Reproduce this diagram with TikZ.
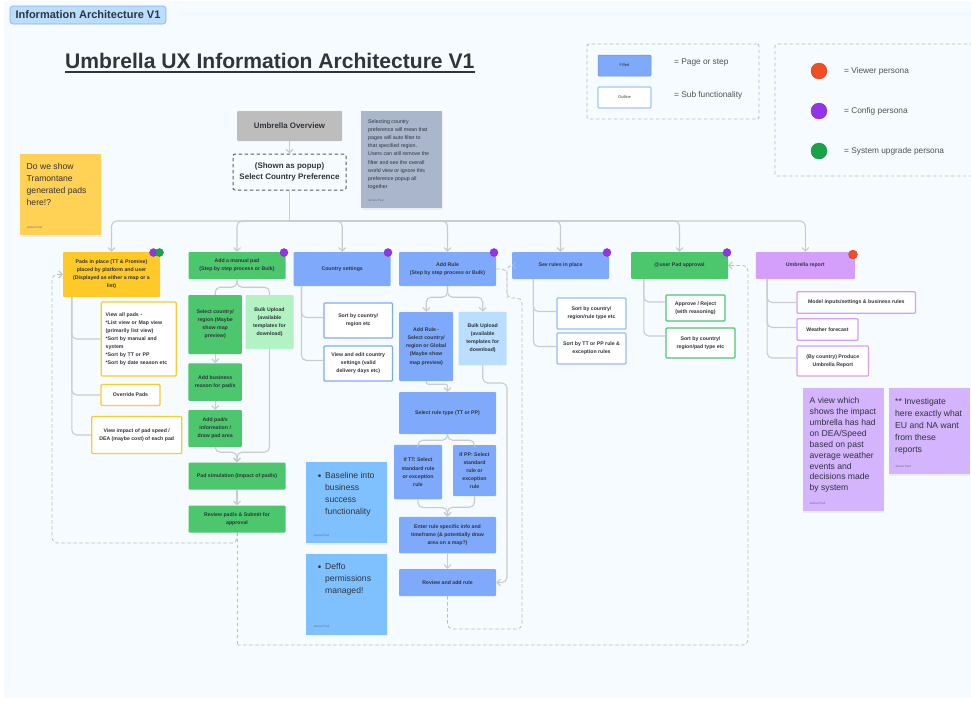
\documentclass[tikz,border=0pt]{standalone}
\usepackage{fontspec,xcolor}
\usetikzlibrary{arrows.meta,shadows}
\setmainfont{Liberation Sans}

\definecolor{pagebg}{HTML}{F6FBFF}
\definecolor{inkdark}{HTML}{30343C}
\definecolor{linegrey}{HTML}{C9CCCF}
\definecolor{dashgrey}{HTML}{BBBDC0}
\definecolor{padyellow}{HTML}{FFC928}
\definecolor{padgreen}{HTML}{4CC76E}
\definecolor{lightgreen}{HTML}{B2F2C3}
\definecolor{ruleblue}{HTML}{7FAAFB}
\definecolor{lightblue}{HTML}{B9DEFF}
\definecolor{reportpurple}{HTML}{D39FFB}
\definecolor{notepurple}{HTML}{D3B4FD}
\definecolor{noteblue}{HTML}{7FC1FF}
\definecolor{notegrey}{HTML}{A9B6CC}
\definecolor{noteyellow}{HTML}{FFD155}
\definecolor{personared}{HTML}{F04E23}
\definecolor{personapurple}{HTML}{9333EA}
\definecolor{personagreen}{HTML}{16A34A}

\tikzset{
  sz/.style 2 args={minimum width=#1pt,minimum height=#2pt},
  box/.style={inner sep=0pt,rounded corners=1pt,align=center,text=inkdark,
    font=\fontsize{5.2}{8.1}\selectfont\bfseries},
  sub/.style={box,fill=white,draw=#1,line width=1.2pt},
  note/.style={inner sep=0pt,fill=#1,drop shadow={opacity=0.1,shadow xshift=0.5pt,shadow yshift=-1.5pt}},
  notetext/.style={inner sep=0pt,anchor=north west,align=left,text=inkdark,
    font=\fontsize{8.6}{12}\selectfont},
  noteby/.style={inner sep=0pt,anchor=south west,text=inkdark!70,font=\fontsize{3}{4}\selectfont},
  dot/.style={circle,inner sep=0pt,minimum size=8pt,fill=#1,draw=#1!80!black,line width=0.3pt},
  legend/.style={inner sep=0pt,anchor=west,text=inkdark!85,font=\fontsize{8.3}{10}\selectfont},
  frame/.style={draw=dashgrey,line width=0.9pt,dash pattern=on 3.5pt off 2.5pt,rounded corners=2pt,inner sep=0pt},
  conn/.style={draw=linegrey,line width=1.1pt,rounded corners=5pt},
  arr/.style={-{Straight Barb[length=3.5pt,width=7pt]}},
  dconn/.style={draw=dashgrey,line width=0.8pt,dash pattern=on 3.5pt off 2.5pt,rounded corners=5pt}
}

\begin{document}
\begin{tikzpicture}[x=1pt,y=-1pt]
  \useasboundingbox (0,0) rectangle (971,704);
  \fill [pagebg] (4,1) rectangle (971,698);

  % heading
  \node [sz={156}{18},inner sep=0pt,rounded corners=3pt,fill=lightblue,draw=lightblue!75!blue,line width=0.6pt,
    font=\fontsize{11}{12}\selectfont\bfseries,text=inkdark] (tag) at (88,15) {Information Architecture V1};
  \node [inner sep=0pt,anchor=base west,text=inkdark,font=\fontsize{21.1}{26}\selectfont\bfseries] (title) at (65,68) {Umbrella UX Information Architecture V1};
  \draw [inkdark,line width=1.5pt] ([yshift=-4pt]title.base west) -- ([yshift=-4pt]title.base east);

  % legends
  \node [frame,sz={172}{75}] (legendbox) at (673,81.5) {};
  \node [box,sz={53}{21},fill=ruleblue,draw=ruleblue!85!black,line width=0.5pt,font=\fontsize{4}{5}\selectfont] (filled) at (624.5,65.5) {Filled};
  \node [sub=ruleblue!70,sz={53}{21},font=\fontsize{4}{5}\selectfont] (outline) at (624.5,97.5) {Outline};
  \node [legend] (filledtxt) at (674,63) {= Page or step};
  \node [legend] (outlinetxt) at (674,95) {= Sub functionality};
  \node [frame,sz={230}{132}] (personabox) at (890,110) {};
  \node [dot=personared,minimum size=16pt] (viewer) at (819,71) {};
  \node [dot=personapurple,minimum size=16pt] (config) at (819,111) {};
  \node [dot=personagreen,minimum size=16pt] (upgrade) at (819,151) {};
  \node [legend] (viewertxt) at (844,71) {= Viewer persona};
  \node [legend] (configtxt) at (844,111) {= Config persona};
  \node [legend] (upgradetxt) at (844,151) {= System upgrade persona};

  % top of the tree
  \node [box,sz={105}{30},fill=black!26,font=\fontsize{7.9}{10}\selectfont\bfseries] (overview) at (289.5,126) {Umbrella Overview};
  \node [frame,box,sz={113}{36},draw=inkdark!80,line width=1pt,fill=pagebg,rounded corners=2pt,font=\fontsize{8}{11}\selectfont\bfseries] (popup) at (289.5,172) {(Shown as popup)\\Select Country Preference};
  \coordinate (trunk) at (289.5,221);

  % top level pages
  \node [box,sz={97}{45},fill=padyellow] (pads) at (111.5,274.5) {Pads in place (TT \& Promise)\\placed by platform and user\\(Displayed as either a map or a\\list)};
  \node [box,sz={97}{27},fill=padgreen] (manual) at (237,265.5) {Add a manual pad\\(Step by step process or Bulk)};
  \node [box,sz={97}{34},fill=ruleblue] (country) at (342.2,269) {Country settings};
  \node [box,sz={97}{34},fill=ruleblue] (addrule) at (447.5,269) {Add Rule\\(Step by step process or Bulk)};
  \node [box,sz={97}{27},fill=ruleblue] (sevrules) at (560.5,265.5) {Sev rules in place};
  \node [box,sz={97}{27},fill=padgreen] (approval) at (679.5,265.5) {@user Pad approval};
  \node [box,sz={99}{27},fill=reportpurple] (report) at (805.3,265.5) {Umbrella report};

  % persona dots
  \node [dot=personapurple] (padsdota) at (153.5,252.5) {};
  \node [dot=personagreen] (padsdotb) at (159.5,252.5) {};
  \node [dot=personapurple] (manualdot) at (284,252.5) {};
  \node [dot=personapurple] (countrydot) at (388,252.5) {};
  \node [dot=personapurple] (addruledot) at (494,252.5) {};
  \node [dot=personapurple] (sevdot) at (607,252.5) {};
  \node [dot=personapurple] (approvaldot) at (727,252.5) {};
  \node [dot=personared,minimum size=9pt] (reportdot) at (853,254.5) {};

  % pads in place
  \node [sub=padyellow,sz={75}{74},text width=66pt,align=left] (viewall) at (138.7,339) {View all pads -\\{}*List view or Map view\\(primarily list view)\\{}*Sort by manual and\\system\\{}*Sort by TT or PP\\{}*Sort by date season etc\\ };
  \node [sub=padyellow,sz={59}{21}] (override) at (130.5,395) {Override Pads};
  \node [sub=padyellow,sz={90}{37}] (impact) at (136.7,435) {View impact of pad  speed /\\DEA (maybe cost) of each pad};

  % manual pad steps
  \node [box,sz={53.5}{59},fill=padgreen] (selectc) at (215.2,324.5) {Select country/\\region (Maybe\\show map\\preview)};
  \node [box,sz={48}{54},fill=lightgreen] (bulkgreen) at (269.5,322) {Bulk Upload\\(available\\templates for\\download)};
  \node [box,sz={53.5}{37.5},fill=padgreen] (reason) at (215.2,382) {Add business\\reason for pad/s};
  \node [box,sz={53.5}{37},fill=padgreen] (padinfo) at (215.2,428.5) {Add pad/s\\information /\\draw pad area};
  \node [box,sz={97}{27},fill=padgreen] (simul) at (237,476) {Pad simulation (Impact of pad/s)};
  \node [box,sz={97}{27},fill=padgreen] (reviewpad) at (237,519) {Review pad/s \& Submit for\\approval};

  % country settings
  \node [sub=ruleblue,sz={68.5}{35}] (sortcountry) at (358.2,320.5) {Sort by country/\\region etc};
  \node [sub=ruleblue,sz={68.5}{35}] (editcountry) at (358.2,363.5) {View and edit country\\settings (valid\\delivery days etc)};

  % rule steps
  \node [box,sz={54}{69},fill=ruleblue] (selectr) at (426.2,346.5) {Add Rule -\\Select country/\\region or Global\\(Maybe show\\map preview)};
  \node [box,sz={48}{53.5},fill=lightblue] (bulkblue) at (482.7,338.5) {Bulk Upload\\(available\\templates for\\download)};
  \node [box,sz={97}{42},fill=ruleblue] (ruletype) at (447.5,413) {Select rule type (TT or PP)};
  \node [box,sz={48}{54.5},fill=ruleblue] (iftt) at (418,472.2) {If TT: Select\\standard rule\\or exception\\rule};
  \node [box,sz={43}{51},fill=ruleblue] (ifpp) at (474.5,470.5) {If PP: Select\\standard\\rule or\\exception\\rule};
  \node [box,sz={97}{36.5},fill=ruleblue] (enter) at (447.5,535) {Enter rule specific info and\\timeframe (\& potentially draw\\area on a map?)};
  \node [box,sz={97}{27},fill=ruleblue] (reviewrule) at (447.5,582.5) {Review and add rule};

  % sev rules
  \node [sub=ruleblue!80,sz={69}{31}] (sortrule) at (591.5,313.5) {Sort by country/\\region/rule type etc};
  \node [sub=ruleblue!80,sz={69}{31}] (sorttt) at (591.5,348.5) {Sort by TT or PP rule \&\\exception rules};

  % approval
  \node [sub=padgreen,sz={59}{26}] (approve) at (695.5,308) {Approve / Reject\\(with reasoning)};
  \node [sub=padgreen,sz={69}{30}] (sortpad) at (700.5,343) {Sort by country/\\region/pad type etc};

  % report
  \node [sub=reportpurple,sz={118.5}{21.5}] (inputs) at (856.3,302.5) {Model inputs/settings \& business rules};
  \node [sub=reportpurple,sz={61}{21.5}] (weather) at (827.5,329.5) {Weather forecast};
  \node [sub=reportpurple,sz={71.5}{30}] (produce) at (832.8,361) {(By country) Produce\\Umbrella Report};

  % sticky notes
  \node [note=noteyellow,sz={81}{81}] (noteyel) at (60.5,194.5) {};
  \node [notetext] (noteyeltxt) at (26.5,163.5) {Do we show\\Tramontane\\generated pads\\here!?};
  \node [noteby] (noteyelby) at (26.5,229) {James Peel};
  \node [note=notegrey,sz={81}{97}] (notecountry) at (401.5,159.5) {};
  \node [notetext,font=\fontsize{5.3}{8.1}\selectfont] (notecountrytxt) at (368,119.5) {Selecting country\\preference will mean that\\pages will auto filter to\\that specified region.\\Users can still remove the\\filter and see the overall\\world view or ignore this\\preference popup all\\together};
  \node [noteby] (notecountryby) at (368,201.5) {James Peel};
  \node [note=noteblue,sz={81}{81}] (notebase) at (346.5,502.5) {};
  \node [notetext] (notebasetxt) at (325,472) {Baseline into\\business\\success\\functionality};
  \node [inner sep=0pt,text=inkdark] (notebasedot) at (319.5,477) {\textbullet};
  \node [noteby] (notebaseby) at (313.5,537) {James Peel};
  \node [note=noteblue,sz={81}{81}] (notedeffo) at (346.5,594) {};
  \node [notetext] (notedeffotxt) at (325,563) {Deffo\\permissions\\managed!};
  \node [inner sep=0pt,text=inkdark] (notedeffodot) at (319.5,568) {\textbullet};
  \node [noteby] (notedeffoby) at (313.5,628) {James Peel};
  \node [note=notepurple,sz={81}{123}] (noteview) at (843.2,449.5) {};
  \node [notetext,font=\fontsize{8.6}{10.85}\selectfont] (noteviewtxt) at (809.5,397.5) {A view which\\shows the impact\\umbrella has had\\on DEA/Speed\\based on past\\average weather\\events and\\decisions made\\by system};
  \node [noteby] (noteviewby) at (809.5,505) {James Peel};
  \node [note=notepurple,sz={81}{86}] (noteeu) at (929.2,431) {};
  \node [notetext] (noteeutxt) at (895,398) {** Investigate\\here exactly what\\EU and NA want\\from these\\reports};
  \node [noteby] (noteeuby) at (895,468) {James Peel};

  % connectors
  \draw [conn,arr] (overview) -- (popup);
  \draw [conn] (popup.south) -- (trunk);
  \draw [conn,arr] (trunk) -| (pads);
  \draw [conn,arr] (trunk) -| (manual);
  \draw [conn,arr] (trunk) -| (country);
  \draw [conn,arr] (trunk) -| (addrule);
  \draw [conn,arr] (trunk) -| (sevrules);
  \draw [conn,arr] (trunk) -| (approval);
  \draw [conn,arr] (trunk) -| (report);

  \draw [conn] ([xshift=9pt]pads.south west) |- (viewall);
  \draw [conn] ([xshift=9pt]pads.south west) |- (override);
  \draw [conn] ([xshift=9pt]pads.south west) |- (impact);
  \draw [conn] (manual.south) -- ++(0,8) -| (selectc);
  \draw [conn] (manual.south) -- ++(0,8) -| (bulkgreen);
  \path [conn,arr] (selectc) edge (reason);
  \path [conn,arr] (reason) edge (padinfo);
  \draw [conn,arr] (padinfo.south) -- ++(0,5) -| (simul);
  \draw [conn,arr] (bulkgreen.south) -- ++(0,103) -| (simul);
  \path [conn,arr] (simul) edge (reviewpad);

  \draw [conn] ([xshift=8pt]country.south west) |- ([yshift=3pt]sortcountry.west);
  \draw [conn] ([xshift=8pt]country.south west) |- ([yshift=3pt]editcountry.west);

  \draw [conn,arr] (addrule.south) -- ++(0,11) -| (selectr);
  \draw [conn,arr] (addrule.south) -- ++(0,11) -| (bulkblue);
  \draw [conn,arr,rounded corners=2pt] (selectr.south) -- ++(0,3) -| (ruletype);
  \draw [conn] (ruletype.south) -- ++(0,6) -| (iftt);
  \draw [conn] (ruletype.south) -- ++(0,6) -| (ifpp);
  \draw [conn,arr] (iftt.south) -- ++(0,8) -| (enter);
  \draw [conn,arr] (ifpp.south) -- ++(0,11) -| (enter);
  \path [conn,arr] (enter) edge (reviewrule);
  \coordinate (bulkturn) at (507,383);
  \draw [conn,arr] (bulkblue.south) |- (bulkturn) |- (reviewrule);

  \draw [conn] ([xshift=21.5pt]sevrules.south west) |- ([yshift=2pt]sortrule.west);
  \draw [conn] ([xshift=21.5pt]sevrules.south west) |- ([yshift=2pt]sorttt.west);
  \draw [conn] ([xshift=13pt]approval.south west) |- ([yshift=6pt]approve.west);
  \draw [conn] ([xshift=13pt]approval.south west) |- ([yshift=7pt]sortpad.west);
  \draw [conn] ([xshift=11.5pt]report.south west) |- (inputs);
  \draw [conn] ([xshift=11.5pt]report.south west) |- ([yshift=2pt]weather.west);
  \draw [conn] ([xshift=11.5pt]report.south west) |- ([yshift=3pt]produce.west);

  % dashed returns
  \coordinate (loopcorner) at (52,543);
  \draw [dconn,arr] (reviewpad.south) |- (loopcorner) |- (pads);
  \coordinate (bigleft) at (237,645);
  \coordinate (bigright) at (748,645);
  \draw [dconn] (reviewpad.south) -- (bigleft);
  \draw [dconn,arr] (bigleft) -- (bigright) |- (approval);
  \coordinate (rulecorner) at (522,629);
  \coordinate (rulekink) at (522,298);
  \coordinate (rulebend) at (507,298);
  \draw [dconn,arr] (reviewrule.south) |- (rulecorner) -- (rulekink) -- (rulebend) |- (sevrules);
  \draw [dconn] (addrule) -| (rulebend);
\end{tikzpicture}
\end{document}
